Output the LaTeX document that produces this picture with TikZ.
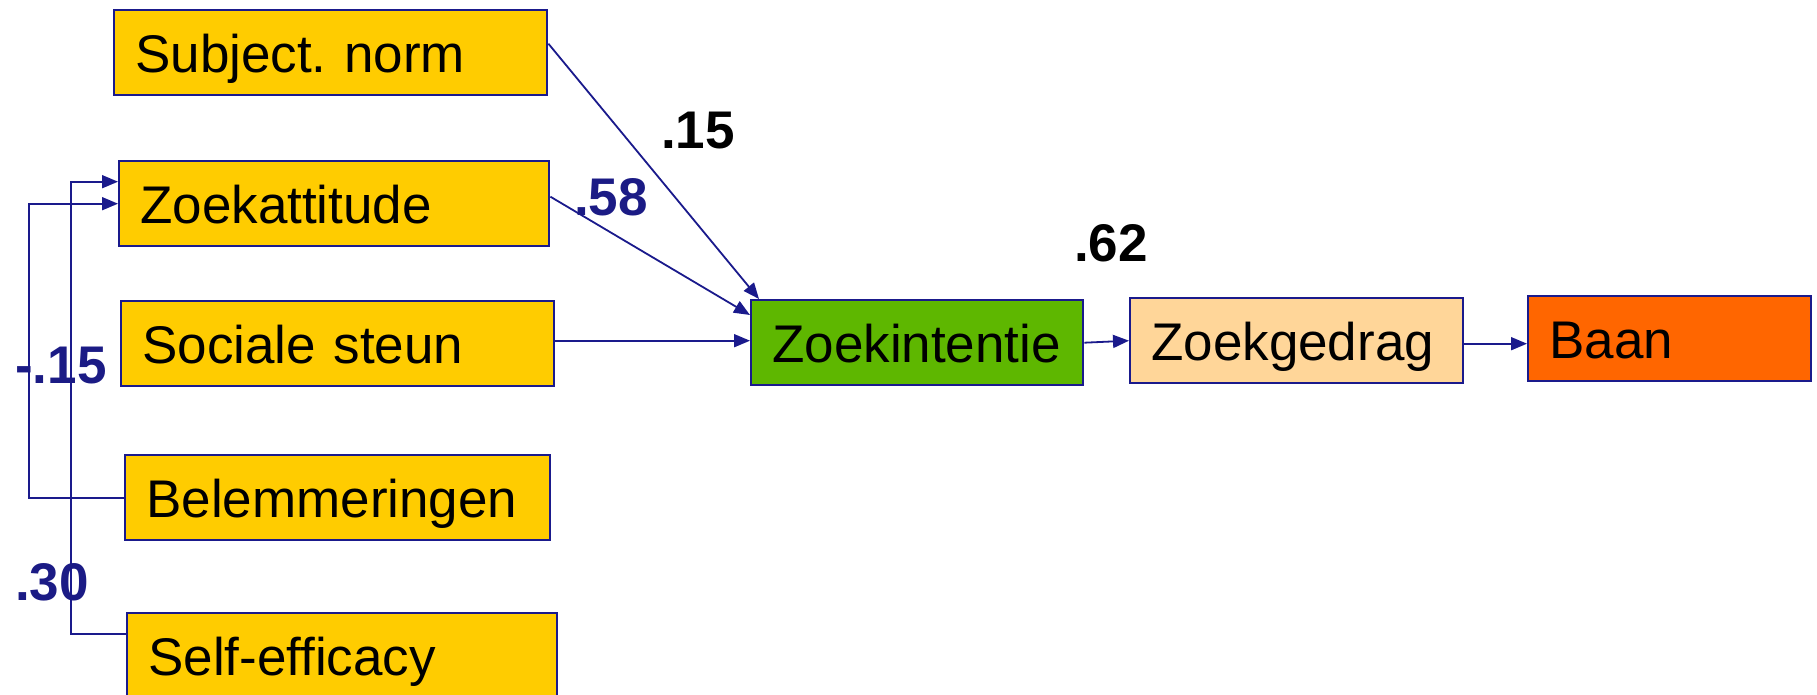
\documentclass[tikz,border=0pt]{standalone}
\usepackage{fontspec}
\setmainfont{Liberation Sans}
\usetikzlibrary{arrows.meta}
\frenchspacing
\definecolor{navy}{HTML}{1A1A8C}
\definecolor{lblnavy}{HTML}{1B1B85}
\definecolor{boxyellow}{HTML}{FFCC00}
\definecolor{boxgreen}{HTML}{5EB700}
\definecolor{boxpeach}{HTML}{FFD699}
\definecolor{boxorange}{HTML}{FF6600}
\tikzset{
  box/.style={draw=navy, line width=2.4pt, anchor=north west, inner xsep=21pt, inner ysep=0pt,
    minimum height=85pt, align=left, text height=42pt, text depth=2pt,
    font=\fontsize{53}{60}\selectfont},
  lbl/.style={inner sep=0pt, font=\bfseries\fontsize{53}{60}\selectfont},
  conn/.style={draw=navy, line width=1.8pt, -{Triangle[length=16pt,width=13pt]}}
}
\begin{document}
\begin{tikzpicture}[x=1pt,y=-1pt]
\useasboundingbox (0,0) rectangle (1817,695);
\fill[white] (0,0) rectangle (1817,695);
\node[box, fill=boxyellow, text width=391pt] (sn) at (113,9) {Subject. norm};
\node[box, fill=boxyellow, text width=388pt] (za) at (118,160) {Zoekattitude};
\node[box, fill=boxyellow, text width=391pt] (ss) at (120,300) {Sociale steun};
\node[box, fill=boxyellow, text width=383pt] (bel) at (124,454) {Belemmeringen};
\node[box, fill=boxyellow, text width=388pt] (se) at (126,612) {Self-efficacy};
\node[box, fill=boxgreen, text width=290pt] (zi) at (750,299) {Zoekintentie};
\node[box, fill=boxpeach, text width=291pt] (zg) at (1129,297) {Zoekgedrag};
\node[box, fill=boxorange, text width=241pt] (baan) at (1527,295) {Baan};

\draw[conn] ([yshift=9pt]sn.east) -- ([xshift=9pt]zi.north west);
\draw[conn] ([yshift=7pt]za.east) -- ([yshift=-16pt]zi.north west);
\draw[conn] ([yshift=3pt]ss.east) -- ([yshift=3pt]ss.east -| zi.west);
\draw[conn] (zi.east) -- (zg.west);
\draw[conn] ([yshift=-3pt]zg.east) -- ([yshift=-3pt]zg.east -| baan.west);

\draw[conn] (bel.west) -- ++(-95,0) |- (za.west);
\draw[conn] ([yshift=-22pt]se.north west) -- ++(-55,0) |- ([yshift=22pt]za.west);

\node[lbl, text=lblnavy] (lneg) at (61,366) {-.15};
\node[lbl, text=lblnavy] (lse) at (52,582) {.30};
\node[lbl] (lsn) at (698,131) {.15};
\node[lbl, text=lblnavy] (lza) at (611,197) {.58};
\node[lbl] (lzi) at (1111,243) {.62};
\end{tikzpicture}
\end{document}
